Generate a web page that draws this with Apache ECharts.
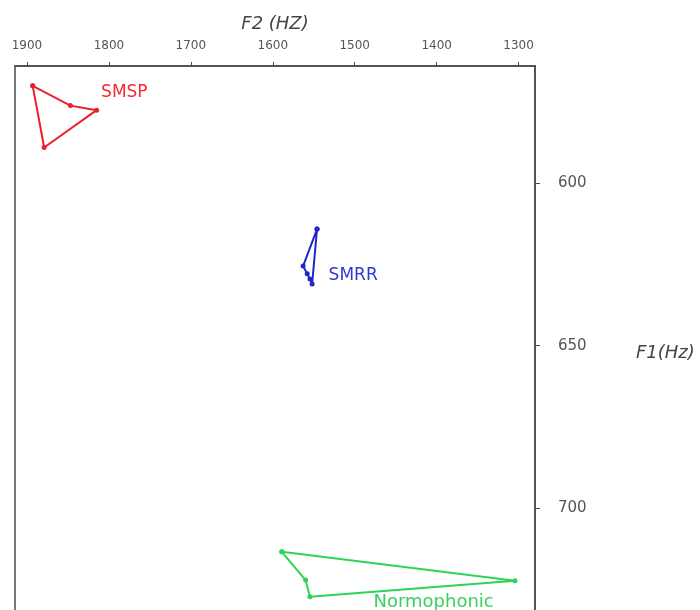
<!DOCTYPE html>
<html>
<head>
<meta charset="utf-8">
<script src="https://cdn.jsdelivr.net/npm/echarts@6/dist/echarts.min.js"></script>
<style>
html,body{margin:0;padding:0;background:#fff;}
#chart{width:700px;height:610px;}
</style>
</head>
<body>
<div id="chart"></div>
<script>
// ---- data ----
var seriesNames = ['SMSP', 'SMRR', 'Normophonic'];
var smspF2 = [1893, 1847, 1815, 1879];
var smspF1 = [570.0, 576.1, 577.5, 589.0];
var smrrF2 = [1546, 1563, 1558, 1554.6, 1552];
var smrrF1 = [614.1, 625.5, 627.9, 629.5, 631.0];
var normF2 = [1589, 1560, 1554.6, 1304.4];
var normF1 = [713.5, 722.2, 727.3, 722.4];
var xTicks = [1300, 1400, 1500, 1600, 1700, 1800, 1900];
var yTicks = [600, 650, 700];

// ---- styling ----
var colors = ['#e8222a', '#2327c9', '#2ed456'];
var labelColors = ['#ee2b33', '#3338cc', '#3bd05e'];
var labelIdx = [2, 4, 2];
var labelOffset = [[-3, -18], [9, -8], [56, 6]];
var labelSize = [17, 17, 18];
var axisColor = '#4a4a4a';
var font = 'DejaVu Sans';

function buildData(f2, f1, k) {
  var d = [];
  for (var i = 0; i < f2.length; i++) {
    var item = { value: [f2[i], f1[i]] };
    if (i === labelIdx[k]) {
      item.label = {
        show: true, formatter: seriesNames[k], position: 'right',
        offset: labelOffset[k], color: labelColors[k],
        fontFamily: font, fontSize: labelSize[k]
      };
    }
    d.push(item);
  }
  d.push({ value: [f2[0], f1[0]] });
  return d;
}

var allF2 = [smspF2, smrrF2, normF2];
var allF1 = [smspF1, smrrF1, normF1];
var series = [];
for (var k = 0; k < 3; k++) {
  series.push({
    name: seriesNames[k],
    type: 'line',
    data: buildData(allF2[k], allF1[k], k),
    symbol: 'circle',
    symbolSize: 5,
    lineStyle: { color: colors[k], width: 2 },
    itemStyle: { color: colors[k] },
    silent: true,
    animation: false
  });
}

function plain(v) { return String(v); }

var chart = echarts.init(document.getElementById('chart'), null, { renderer: 'canvas' });
chart.setOption({
  backgroundColor: '#fff',
  animation: false,
  grid: {
    left: 15, top: 66, width: 520, height: 556,
    outerBoundsMode: 'none', containLabel: false,
    show: true, borderColor: axisColor, borderWidth: 1.5, backgroundColor: 'transparent'
  },
  xAxis: {
    type: 'value', position: 'top', inverse: true,
    min: 1280, max: 1914.6,
    name: 'F2 (HZ)', nameLocation: 'middle', nameGap: 33,
    nameTextStyle: { fontFamily: font, fontStyle: 'italic', fontSize: 18, color: '#444' },
    axisLine: { show: true, lineStyle: { color: axisColor, width: 1.5 } },
    axisTick: { show: true, inside: false, length: 4, customValues: xTicks, lineStyle: { color: axisColor } },
    axisLabel: { customValues: xTicks, formatter: plain, margin: 14, fontFamily: font, fontSize: 12, color: '#555' },
    splitLine: { show: false }
  },
  yAxis: {
    type: 'value', position: 'right', inverse: true,
    min: 563.9, max: 735.1,
    name: 'F1(Hz)', nameLocation: 'middle', nameGap: 101, nameRotate: 0,
    nameTextStyle: { fontFamily: font, fontStyle: 'italic', fontSize: 18, color: '#444', verticalAlign: 'top' },
    axisLine: { show: true, lineStyle: { color: axisColor, width: 1.5 } },
    axisTick: { show: true, inside: false, length: 5, customValues: yTicks, lineStyle: { color: axisColor } },
    axisLabel: { customValues: yTicks, formatter: plain, margin: 23, fontFamily: font, fontSize: 15, color: '#555' },
    splitLine: { show: false }
  },
  series: series
});
</script>
</body>
</html>
